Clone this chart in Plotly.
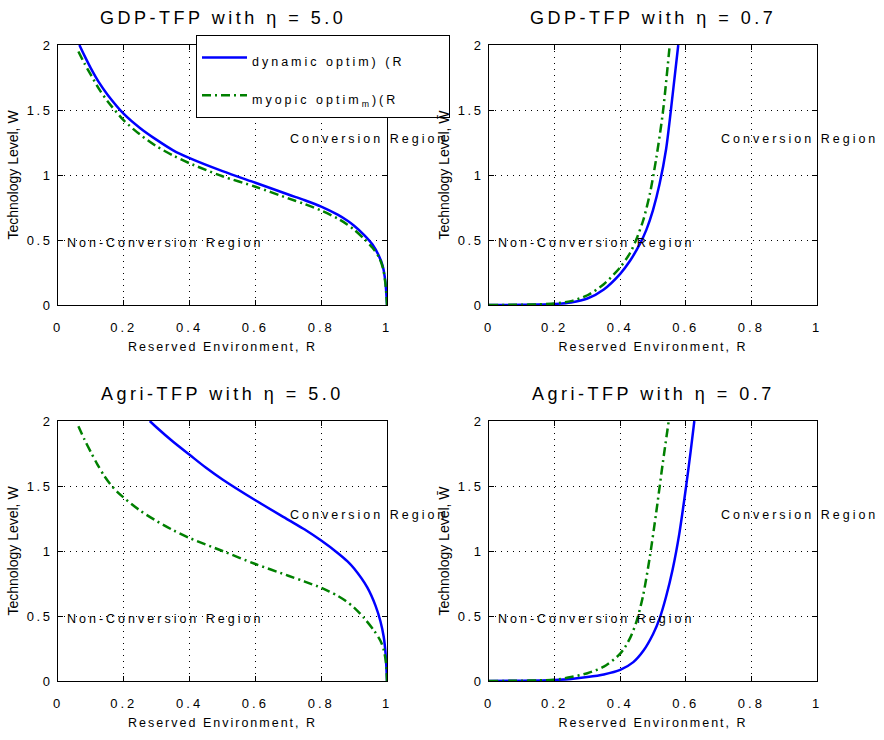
import plotly.graph_objects as go

# ---------------- data ----------------
# Top-left: GDP-TFP, eta = 5.0
gdp5_R_dyn = [0.065, 0.08, 0.1, 0.125, 0.15, 0.2, 0.25, 0.3, 0.35, 0.4, 0.5, 0.6, 0.7, 0.75, 0.8, 0.85, 0.88, 0.9, 0.93, 0.956, 0.975, 0.987, 0.995, 1.0]
gdp5_W_dyn = [2.0, 1.92, 1.82, 1.71, 1.62, 1.47, 1.36, 1.27, 1.19, 1.13, 1.03, 0.94, 0.85, 0.806, 0.757, 0.695, 0.648, 0.61, 0.54, 0.465, 0.38, 0.30, 0.18, 0.0]
gdp5_R_myo = [0.062, 0.08, 0.1, 0.125, 0.15, 0.2, 0.25, 0.3, 0.35, 0.4, 0.5, 0.6, 0.7, 0.75, 0.8, 0.85, 0.88, 0.9, 0.93, 0.956, 0.975, 0.987, 0.995, 1.0]
gdp5_W_myo = [1.95, 1.86, 1.77, 1.66, 1.57, 1.42, 1.31, 1.22, 1.15, 1.09, 0.99, 0.91, 0.82, 0.776, 0.727, 0.665, 0.618, 0.58, 0.51, 0.44, 0.37, 0.29, 0.17, 0.0]

# Top-right: GDP-TFP, eta = 0.7
gdp07_R_dyn = [0.0, 0.1, 0.15, 0.2, 0.25, 0.3, 0.35, 0.4, 0.43, 0.46, 0.48, 0.5, 0.52, 0.54, 0.56, 0.577]
gdp07_W_dyn = [0.0, 0.001, 0.003, 0.008, 0.02, 0.05, 0.12, 0.24, 0.34, 0.47, 0.58, 0.73, 0.93, 1.20, 1.62, 2.0]
gdp07_R_myo = [0.0, 0.1, 0.15, 0.2, 0.25, 0.3, 0.35, 0.4, 0.43, 0.45, 0.47, 0.49, 0.51, 0.53, 0.551]
gdp07_W_myo = [0.0, 0.002, 0.005, 0.012, 0.03, 0.075, 0.16, 0.29, 0.40, 0.51, 0.65, 0.85, 1.13, 1.48, 2.0]

# Bottom-left: Agri-TFP, eta = 5.0
agr5_R_dyn = [0.279, 0.3, 0.35, 0.4, 0.45, 0.5, 0.6, 0.7, 0.75, 0.8, 0.85, 0.88, 0.9, 0.94, 0.965, 0.98, 0.99, 0.996, 1.0]
agr5_W_dyn = [2.0, 1.95, 1.84, 1.74, 1.64, 1.55, 1.39, 1.24, 1.165, 1.08, 0.985, 0.92, 0.865, 0.72, 0.58, 0.46, 0.34, 0.20, 0.0]
agr5_R_myo = [0.062, 0.08, 0.1, 0.12, 0.14, 0.16, 0.18, 0.2, 0.25, 0.3, 0.35, 0.4, 0.5, 0.6, 0.7, 0.75, 0.8, 0.825, 0.85, 0.875, 0.9, 0.93, 0.96, 0.98, 0.99, 0.997, 1.0]
agr5_W_myo = [1.96, 1.86, 1.76, 1.665, 1.58, 1.51, 1.455, 1.41, 1.31, 1.23, 1.16, 1.10, 1.00, 0.90, 0.81, 0.765, 0.717, 0.688, 0.655, 0.615, 0.565, 0.485, 0.39, 0.31, 0.24, 0.14, 0.0]

# Bottom-right: Agri-TFP, eta = 0.7
agr07_R_dyn = [0.0, 0.1, 0.2, 0.25, 0.3, 0.35, 0.4, 0.44, 0.47, 0.5, 0.52, 0.54, 0.56, 0.58, 0.6, 0.615, 0.626]
agr07_W_dyn = [0.0, 0.002, 0.008, 0.016, 0.03, 0.05, 0.085, 0.145, 0.23, 0.36, 0.48, 0.65, 0.86, 1.13, 1.48, 1.77, 2.0]
agr07_R_myo = [0.0, 0.1, 0.15, 0.2, 0.25, 0.3, 0.35, 0.4, 0.43, 0.45, 0.47, 0.49, 0.51, 0.53, 0.548]
agr07_W_myo = [0.0, 0.002, 0.005, 0.01, 0.03, 0.06, 0.11, 0.21, 0.33, 0.46, 0.66, 0.95, 1.30, 1.68, 2.0]

panel_titles = ["GDP-TFP with η = 5.0", "GDP-TFP with η = 0.7",
                "Agri-TFP with η = 5.0", "Agri-TFP with η = 0.7"]
x_ticks = [0, 0.2, 0.4, 0.6, 0.8, 1]
x_ticklabels = ["0", "0.2", "0.4", "0.6", "0.8", "1"]
y_ticks = [0, 0.5, 1, 1.5, 2]
y_ticklabels = ["0", "0.5", "1", "1.5", "2"]
legend_names = ["dynamic optim) (R", "myopic optim<sub>m</sub>)(R"]
x_label = "Reserved Environment, R"
y_labels = ["Technology Level, W", "Technology Level, W̄"]
region_labels = ["Conversion Region", "Non-Conversion Region"]
region_pos = [(0.70, 1.28), (0.02, 0.48)]

# ---------------- style ----------------
FONT = "Liberation Sans, Arial, sans-serif"
BLUE = "rgb(0,0,255)"
GREEN = "rgb(0,128,0)"
W, H = 884, 740
PAD = "\u00a0" * 6


def sp(text, ls, size=None):
    style = "letter-spacing:%spx" % ls
    if size:
        style += ";font-size:%spx" % size
    return '<span style="%s">%s</span>' % (style, text)


xdom = [[58 / W, 387 / W], [489 / W, 817 / W]]
ydom = [[1 - 305 / H, 1 - 45 / H], [1 - 681 / H, 1 - 421 / H]]

panels = [
    (gdp5_R_dyn, gdp5_W_dyn, gdp5_R_myo, gdp5_W_myo),
    (gdp07_R_dyn, gdp07_W_dyn, gdp07_R_myo, gdp07_W_myo),
    (agr5_R_dyn, agr5_W_dyn, agr5_R_myo, agr5_W_myo),
    (agr07_R_dyn, agr07_W_dyn, agr07_R_myo, agr07_W_myo),
]

fig = go.Figure()
layout = dict(
    width=W, height=H, margin=dict(l=0, r=0, t=0, b=0, autoexpand=False),
    paper_bgcolor="white", plot_bgcolor="white",
    font=dict(family=FONT, color="black", size=13),
    showlegend=True,
    legend=dict(x=196 / W, y=1 - 35 / H, xanchor="left", yanchor="top",
                bgcolor="white", bordercolor="black", borderwidth=1,
                font=dict(size=23, family=FONT), tracegroupgap=5,
                itemwidth=45),
)
annotations = []

for i, (rd, wd, rm, wm) in enumerate(panels):
    row, col = divmod(i, 2)
    n = i + 1
    xa = "x" if n == 1 else "x%d" % n
    ya = "y" if n == 1 else "y%d" % n
    fig.add_trace(go.Scatter(x=rd, y=wd, mode="lines", xaxis=xa, yaxis=ya,
                             name=sp(legend_names[0] + PAD, 3, 12.5), legendgroup="a",
                             showlegend=(i == 0),
                             line=dict(color=BLUE, width=2.5, shape="spline", smoothing=0.8)))
    fig.add_trace(go.Scatter(x=rm, y=wm, mode="lines", xaxis=xa, yaxis=ya,
                             name=sp(legend_names[1], 3, 12.5), legendgroup="b",
                             showlegend=(i == 0),
                             line=dict(color=GREEN, width=2.5, dash="9px,4px,2px,4px",
                                       shape="spline", smoothing=0.8)))
    axcommon = dict(showline=True, mirror="allticks", linecolor="black", linewidth=1,
                    ticks="inside", ticklen=5, tickcolor="black", automargin=False,
                    showgrid=True, gridcolor="black", gridwidth=1, griddash="1px,5px",
                    zeroline=False, tickfont=dict(size=13, family=FONT))
    layout["xaxis" if n == 1 else "xaxis%d" % n] = dict(
        axcommon, domain=xdom[col], anchor=ya, range=[0, 1], tickmode="array",
        tickvals=x_ticks, ticktext=[sp(t, 3) for t in x_ticklabels],
        ticklabelstandoff=10,
        title=dict(text=sp(x_label, 2), font=dict(size=12.5, family=FONT), standoff=8))
    layout["yaxis" if n == 1 else "yaxis%d" % n] = dict(
        axcommon, domain=ydom[row], anchor=xa, range=[0, 2], tickmode="array",
        tickvals=y_ticks, ticktext=[sp(t, 2.5) for t in y_ticklabels],
        ticklabelstandoff=2,
        title=dict(text=y_labels[col], font=dict(size=14, family=FONT), standoff=4))
    # panel title
    annotations.append(dict(
        text=sp(panel_titles[i], 3.5), xref="paper", yref="paper",
        x=(xdom[col][0] + xdom[col][1]) / 2, y=ydom[row][1] + 27 / H,
        xanchor="center", yanchor="middle", showarrow=False,
        font=dict(size=18, family=FONT)))
    for txt, (rx, wy) in zip(region_labels, region_pos):
        annotations.append(dict(
            text=sp(txt, 3), xref=xa, yref=ya, x=rx, y=wy,
            xanchor="left", yanchor="middle", showarrow=False,
            font=dict(size=12.5, family=FONT)))

layout["annotations"] = annotations
fig.update_layout(**layout)
fig.write_html("out.html", config={"displayModeBar": False},
               post_script="document.body.style.margin='0';document.body.style.padding='0';")
